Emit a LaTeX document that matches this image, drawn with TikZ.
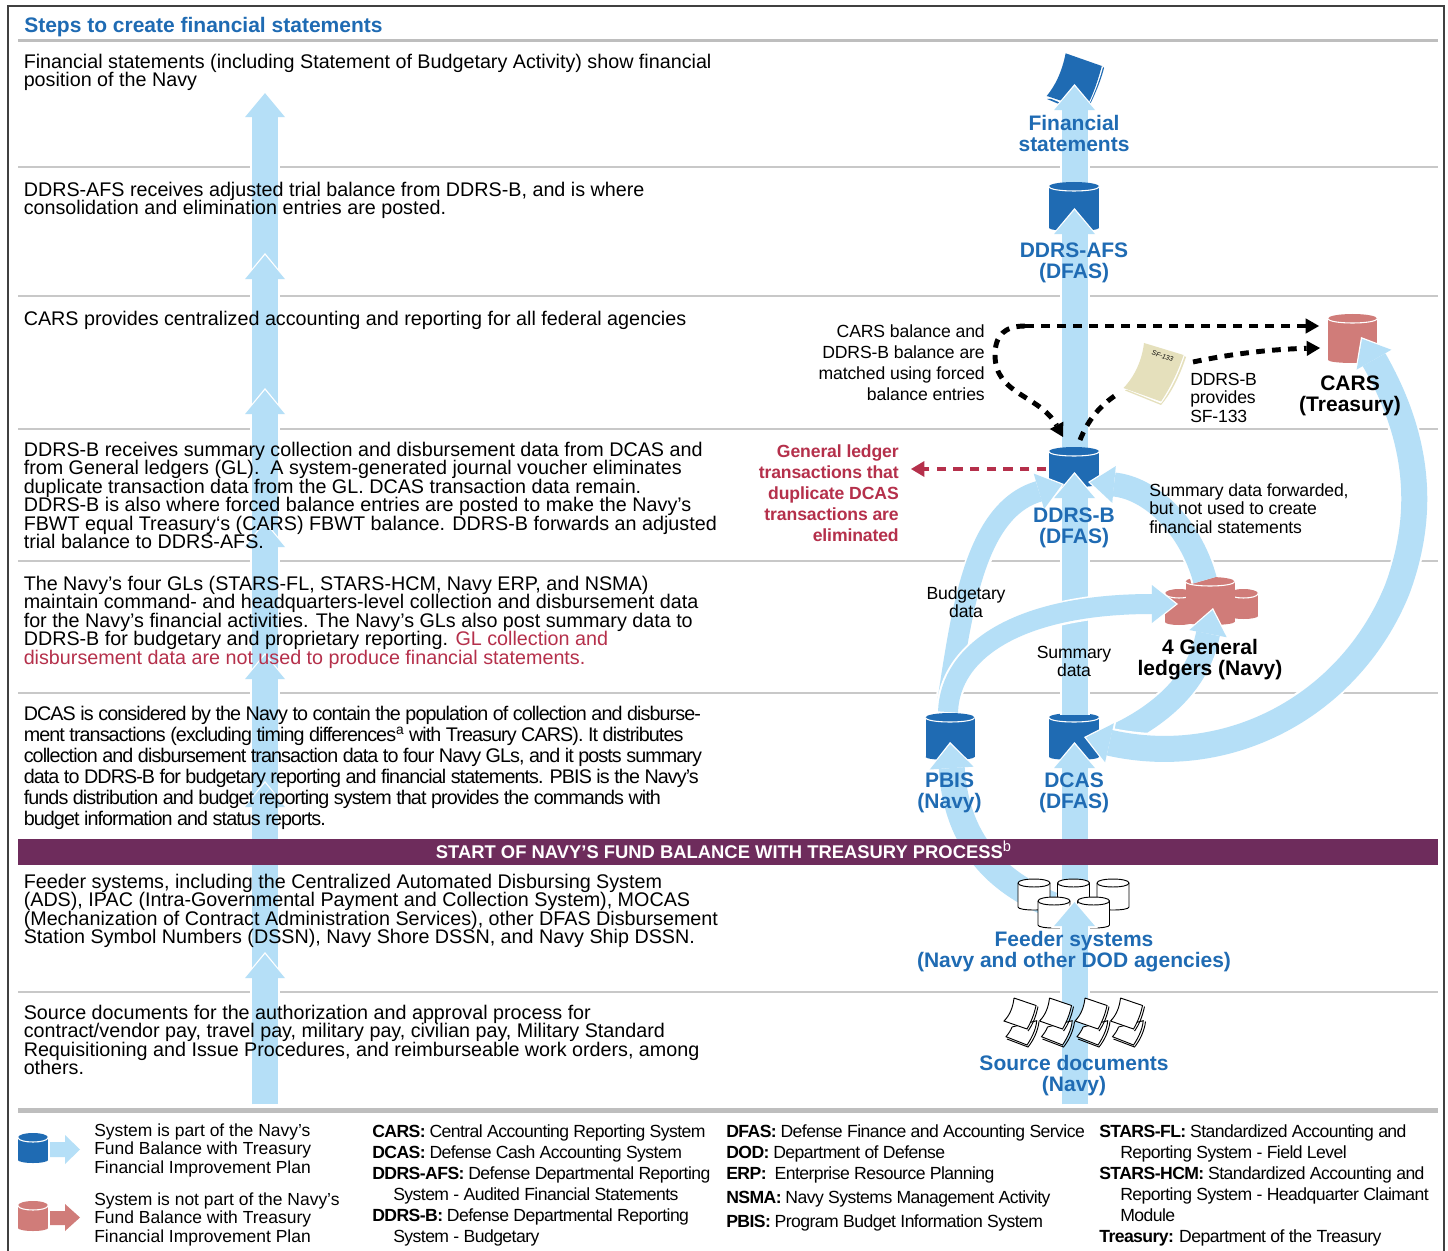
\documentclass[tikz,border=0pt]{standalone}
\usepackage{fontspec}
\setmainfont{Liberation Sans}
\usetikzlibrary{arrows.meta}
\definecolor{lb}{HTML}{B5DFF7}
\definecolor{bl}{HTML}{1F6BB3}
\definecolor{rd}{HTML}{D07C79}
\definecolor{pu}{HTML}{6E2C5C}
\definecolor{dr}{HTML}{B5304B}
\definecolor{cr}{HTML}{E5E0BC}
\definecolor{rl}{HTML}{C8C8C8}
\newcommand\stA{\rule{0pt}{11.5pt}}
\newcommand\stB{\rule{0pt}{12pt}}
\newcommand\stC{\rule{0pt}{10.5pt}}
\newcommand\cyl[6]{%
  \node[inner sep=0pt,minimum width={#4*0.75pt},minimum height={#5*0.75pt}] (#1) at (#2,{#3+#5/2}) {};
  \fill[#6] ({#2-#4/2},{#3+4.5}) rectangle ({#2+#4/2},{#3+#5-3});
  \fill[#6] (#2,{#3+#5-3}) ellipse [x radius={#4/2},y radius=3];
  \fill[#6] (#2,{#3+4.5}) ellipse [x radius={#4/2},y radius=4.5];
  \draw[white,line width=0.8pt] ({#2-#4/2},{#3+4.5}) .. controls ({#2-#4/2},{#3+10.5}) and ({#2+#4/2},{#3+10.5}) .. ({#2+#4/2},{#3+4.5});}
\newcommand\ocyl[5]{%
  \node[inner sep=0pt,minimum width={#4*0.75pt},minimum height={#5*0.75pt}] (#1) at (#2,{#3+#5/2}) {};
  \filldraw[fill=white,draw=black,line width=0.7pt] ({#2-#4/2},{#3+4}) -- ({#2-#4/2},{#3+#5-3}) .. controls ({#2-#4/2},{#3+#5+1}) and ({#2+#4/2},{#3+#5+1}) .. ({#2+#4/2},{#3+#5-3}) -- ({#2+#4/2},{#3+4}) .. controls ({#2+#4/2},{#3-1.3}) and ({#2-#4/2},{#3-1.3}) .. cycle;
  \draw[black,line width=0.7pt] ({#2-#4/2},{#3+4}) .. controls ({#2-#4/2},{#3+9.3}) and ({#2+#4/2},{#3+9.3}) .. ({#2+#4/2},{#3+4});}
\newcommand\fatarrow[3]{%
  \draw[white,line width={(#1+4)*0.75pt},shorten >=16pt] #3;
  \draw[white,line width=0.1pt,-{Triangle[width={(#2+6)*0.75pt},length=21pt,line width=0pt,fill=white]}] #3;
  \draw[lb,line width={#1*0.75pt},shorten >=1.6pt,-{Triangle[width={#2*0.75pt},length=18pt,line width=0pt,fill=lb]}] #3;}
\newcommand\fatboth[3]{%
  \draw[white,line width={(#1+4)*0.75pt},shorten >=16pt,shorten <=16pt] #3;
  \draw[white,line width=0.1pt,{Triangle[width={(#2+6)*0.75pt},length=21pt,line width=0pt,fill=white]}-{Triangle[width={(#2+6)*0.75pt},length=21pt,line width=0pt,fill=white]}] #3;
  \draw[lb,line width={#1*0.75pt},shorten >=1.6pt,shorten <=1.6pt,{Triangle[width={#2*0.75pt},length=18pt,line width=0pt,fill=lb]}-{Triangle[width={#2*0.75pt},length=18pt,line width=0pt,fill=lb]}] #3;}
\newcommand\srcdoc[1]{%
  \begin{scope}[shift={(#1,0)}]
  \draw[fill=white,line width=0.7pt] (1012,1027) -- (1036.7,1020.7) .. controls (1036,1030) and (1031,1039) .. (1027,1045) -- (1006,1036.7) .. controls (1009,1033) and (1011,1030) .. (1012,1027);
  \draw[line width=0.7pt] (1039,1021.5) .. controls (1038,1031) and (1033,1041) .. (1028,1047) -- (1007,1039);
  \draw[fill=white,line width=0.7pt] (1014,998) -- (1036,1005.5) .. controls (1034,1015) and (1031,1022) .. (1027,1029) -- (1004,1021) .. controls (1010,1015) and (1013,1007) .. (1014,998);
  \draw[line width=0.7pt] (1038,1006.5) .. controls (1036,1016) and (1033,1024) .. (1028,1031);
  \end{scope}}
\tikzset{
  body/.style={anchor=north west,inner sep=0pt,align=left,font=\fontsize{14.8pt}{13.875pt}\selectfont},
  tight/.style={anchor=north west,inner sep=0pt,align=left,font=\fontsize{14.8pt}{15.75pt}\selectfont\addfontfeature{LetterSpace=-4.65}},
  sysl/.style={anchor=north,inner sep=0pt,align=center,text=bl,font=\fontsize{15.75pt}{15.75pt}\selectfont\bfseries},
  sysk/.style={anchor=north,inner sep=0pt,align=center,text=black,font=\fontsize{15.75pt}{15.75pt}\selectfont\bfseries},
  note/.style={inner sep=0pt,font=\fontsize{13.2pt}{15.75pt}\selectfont\addfontfeature{LetterSpace=-0.7}},
  notet/.style={inner sep=0pt,font=\fontsize{13.2pt}{13.875pt}\selectfont\addfontfeature{LetterSpace=-0.9}},
  legt/.style={anchor=north west,inner sep=0pt,align=left,font=\fontsize{13.1pt}{14pt}\selectfont},
  legc/.style={anchor=north west,inner sep=0pt,align=left,font=\fontsize{13.2pt}{15.75pt}\selectfont\addfontfeature{LetterSpace=-3.2}},
  rowline/.style={rl,line width=1.1pt},
  thick rule/.style={color=rl!95!black,line width=#1},
  dashk/.style={black,line width=3.7pt,dash pattern=on 6.5pt off 5.5pt},
  tipk/.style={-{Triangle[width=11.5pt,length=10pt,line width=0pt]}},
}
\begin{document}
\begin{tikzpicture}[x=0.75pt,y=-0.75pt]
\useasboundingbox (0,0) rectangle (1448,1251);
\fill[white] (0,0) rectangle (1448,1251);
% frame
\coordinate (fbl) at (8,1251); \coordinate (ftl) at (8,6); \coordinate (ftr) at (1444,6); \coordinate (fbr) at (1444,1251);
\draw[black!75,line width=1.2pt] (fbl) -- (ftl) -- (ftr) -- (fbr);
% rules
\foreach \yy/\nm in {167/a,296/b,429/c,561/d,693/e,992/f}{
  \coordinate (L\nm) at (18,\yy); \coordinate (R\nm) at (1438,\yy);
  \draw[rowline] (L\nm) -- (R\nm);}
\coordinate (Lt) at (18,40.5); \coordinate (Rt) at (1438,40.5);
\coordinate (Lu) at (18,1110.5); \coordinate (Ru) at (1438,1110.5);
\draw[thick rule=2.2pt] (Lt) -- (Rt);
\draw[thick rule=3.4pt] (Lu) -- (Ru);
% left column arrow
\foreach \ya/\yb in {300/91,420/253,550/388,680/521,810/653,985/781,1104/952}{
  \coordinate (lA) at (265,\ya); \coordinate (lB) at (265,\yb);
  \fatarrow{26}{40}{(lA) -- (lB)}
}
% book
\coordinate (bookc) at (1075,80);
\fill[bl] (1047,99) -- (1060,104.5) -- (1090,104.5) .. controls (1096,92) and (1101,80) .. (1104,68) -- (1102,66) -- (1090,95) -- cycle;
\fill[white] (1046.7,97) -- (1060,102.5) -- (1089.5,103.5) .. controls (1095,92) and (1099.5,80) .. (1103,67) -- (1101,64) -- cycle;
\fill[bl] (1065.6,53.3) -- (1101.8,66) .. controls (1098,80) and (1094,92) .. (1089,102) -- (1062,101) -- (1046.7,96) .. controls (1055,86) and (1062,72) .. (1065.6,53.3) -- cycle;
\coordinate (fsIn) at (1074.5,84);
\coordinate (afsTop) at (1074.5,190);
\fatarrow{26}{41}{(afsTop) -- (fsIn)}
\cyl{afs}{1074}{182}{50}{49}{bl}
\coordinate (afsIn) at (1074.5,208);
\coordinate (bTop) at (1074.5,450);
\fatarrow{26}{41}{(bTop) -- (afsIn)}
\cyl{ddrsb}{1074}{447}{50}{40}{bl}
\cyl{dcas}{1074}{713}{50}{47}{bl}
\cyl{pbis}{950}{713}{49}{47}{bl}
\coordinate (bIn) at (1074.5,472);
\coordinate (dcasTop) at (1074.5,715);
\fatarrow{26}{41}{(dcasTop) -- (bIn)}
\coordinate (dIn) at (1074.5,742);
\coordinate (feedTop) at (1074.5,905);
\fatarrow{26}{41}{(feedTop) -- (dIn)}
% PBIS feed
\coordinate (feedL) at (1052,905);
\coordinate (pIn) at (950,742);
\fatarrow{26}{44}{(feedL) .. controls (1005,885) and (957,850) .. (pIn)}
% GL cylinders
\cyl{glL}{1179}{589}{28}{36}{rd}
\cyl{glR}{1243.5}{589}{29}{30}{rd}
\cyl{glC}{1210}{577}{49}{48}{rd}
\cyl{cars}{1352.5}{314}{49}{49}{rd}
% PBIS to DDRS-B
\coordinate (pUp) at (948,700);
\coordinate (bInL) at (1064,484);
\fatarrow{21}{37}{(pUp) .. controls (962,610) and (975,510) .. (bInL)}
% GL to DDRS-B
\coordinate (glUp) at (1205,580);
\coordinate (bInR) at (1088,482);
\fatarrow{24}{37}{(glUp) .. controls (1190,525) and (1150,488) .. (bInR)}
% PBIS to GL
\coordinate (pR) at (948,712);
\coordinate (glIn) at (1178,604);
\fatarrow{20}{38}{(pR) .. controls (950,650) and (1020,604) .. (glIn)}
% DCAS to GL
\coordinate (dR) at (1118,735);
\coordinate (glIn2) at (1213,608);
\fatarrow{24}{38}{(dR) .. controls (1170,710) and (1200,675) .. (glIn2)}
% big arc, CARS to DCAS
\coordinate (arcM) at (1397,590);
\coordinate (carsIn) at (1361,337);
\coordinate (dIn2) at (1084,737);
\fatboth{26}{40}{(carsIn) .. controls (1420,440) and (1425,515) .. (arcM) .. controls (1350,705) and (1230,770) .. (dIn2)}
% feeder
\ocyl{f1}{1034}{879}{32}{31}
\ocyl{f2}{1073.5}{879}{32}{31}
\ocyl{f3}{1113}{879}{32}{31}
\ocyl{f4}{1054}{897}{32}{31}
\ocyl{f5}{1093.5}{897}{32}{31}
% source up arrow
\coordinate (srcB) at (1074.5,1104);
\coordinate (feedIn) at (1074.5,900);
\fatarrow{26}{41}{(srcB) -- (feedIn)}
\srcdoc{0}\srcdoc{35.5}\srcdoc{71}\srcdoc{106.5}
% SF-133
\fill[cr] (1125,390.5) -- (1161,405) .. controls (1172,392) and (1180,375) .. (1186,357) -- (1184,356) -- cycle;
\fill[white] (1124,388.5) -- (1161,403.5) .. controls (1171,390) and (1179,373) .. (1184.5,356) -- (1183,354) -- cycle;
\fill[cr] (1144,343) -- (1183.5,355) .. controls (1178,372) and (1170,388) .. (1161,401.5) -- (1123.5,388) .. controls (1135,376) and (1142,360) .. (1144,343) -- cycle;
\node[rotate=-17,inner sep=0pt,font=\fontsize{5pt}{5pt}\selectfont\itshape] (sftag) at (1162.5,356) {SF-133};
\coordinate (sfdoc) at (1119,393);
\coordinate (sfdoc2) at (1193,362);
% dashed
\coordinate (carsD1) at (1319,326);
\coordinate (carsD2) at (1320,348);
\coordinate (bD1) at (1063,437);
\coordinate (bD2) at (1080,440);
\draw[dashk,tipk] (1025,326) -- (carsD1);
\draw[dashk,tipk] (1025,326) .. controls (1005,326) and (995,335) .. (995,355) .. controls (995,395) and (1040,395) .. (bD1);
\draw[dashk] (bD2) .. controls (1088,420) and (1100,405) .. (sfdoc);
\draw[dashk,tipk] (sfdoc2) .. controls (1240,352) and (1280,349) .. (carsD2);
\coordinate (rS) at (1046,469);
\coordinate (rE) at (911,469);
\draw[dr,line width=3.4pt,dash pattern=on 7pt off 5.5pt,-{Triangle[width=12pt,length=10pt,line width=0pt]}] (rS) -- (rE);
% band
\node[fill=pu,minimum width=1065pt,minimum height=19.5pt,inner sep=0pt] (band) at (728,851.5) {};
\node[inner sep=0pt,text=white,font=\fontsize{13.8pt}{14pt}\selectfont\bfseries] (bandt) at (723.5,850) {START OF NAVY’S FUND BALANCE WITH TREASURY PROCESS\raisebox{5.5pt}{\fontsize{11pt}{11pt}\selectfont\mdseries b}};
% header
\node[anchor=north west,inner sep=0pt,text=bl,font=\fontsize{15.75pt}{16pt}\selectfont\bfseries] (hdr) at (24,16) {\stB Steps to create financial statements};
% rows
\node[body] (r1) at (23.5,52.5) {\stA Financial statements (including Statement of Budgetary Activity) show financial\\position of the Navy};
\node[body] (r2) at (23.5,180.5) {\stA DDRS-AFS receives adjusted trial balance from DDRS-B, and is where\\consolidation and elimination entries are posted.};
\node[body] (r3) at (23.5,309.5) {\stA CARS provides centralized accounting and reporting for all federal agencies};
\node[body] (r4) at (23.5,440.5) {\stA DDRS-B receives summary collection and disbursement data from DCAS and\\from General ledgers (GL).\ \ A system-generated journal voucher eliminates\\duplicate transaction data from the GL. DCAS transaction data remain.\\DDRS-B is also where forced balance entries are posted to make the Navy’s\\FBWT equal Treasury‘s (CARS) FBWT balance. DDRS-B forwards an adjusted\\trial balance to DDRS-AFS.};
\node[body] (r5) at (23.5,574.5) {\stA The Navy’s four GLs (STARS-FL, STARS-HCM, Navy ERP, and NSMA)\\maintain command- and headquarters-level collection and disbursement data\\for the Navy’s financial activities. The Navy’s GLs also post summary data to\\DDRS-B for budgetary and proprietary reporting. \textcolor{dr}{GL collection and}\\\textcolor{dr}{disbursement data are not used to produce financial statements.}};
\node[tight] (r6) at (23.5,704.5) {\stA DCAS is considered by the Navy to contain the population of collection and disburse-\\ment transactions (excluding timing differences\textsuperscript{a} with Treasury CARS). It distributes\\collection and disbursement transaction data to four Navy GLs, and it posts summary\\data to DDRS-B for budgetary reporting and financial statements. PBIS is the Navy’s\\funds distribution and budget reporting system that provides the commands with\\budget information and status reports.};
\node[body] (r7) at (23.5,872.5) {\stA Feeder systems, including the Centralized Automated Disbursing System\\(ADS), IPAC (Intra-Governmental Payment and Collection System), MOCAS\\(Mechanization of Contract Administration Services), other DFAS Disbursement\\Station Symbol Numbers (DSSN), Navy Shore DSSN, and Navy Ship DSSN.};
\node[body] (r8) at (23.5,1003.5) {\stA Source documents for the authorization and approval process for\\contract/vendor pay, travel pay, military pay, civilian pay, Military Standard\\Requisitioning and Issue Procedures, and reimburseable work orders, among\\others.};
% system labels
\node[sysl] (lfs) at (1074,114) {\stB Financial\\statements};
\node[sysl] (lafs) at (1074,241) {\stB DDRS-AFS\\(DFAS)};
\node[sysl] (lb) at (1074,506) {\stB DDRS-B\\(DFAS)};
\node[sysl] (ldcas) at (1074,771) {\stB DCAS\\(DFAS)};
\node[sysl] (lpbis) at (949.5,771) {\stB PBIS\\(Navy)};
\node[sysl] (lfeed) at (1074,930) {\stB Feeder systems\\(Navy and other DOD agencies)};
\node[sysl] (lsrc) at (1074,1054) {\stB Source documents\\(Navy)};
\node[sysk] (lcars) at (1350,374) {\stB CARS\\(Treasury)};
\node[sysk] (lgl) at (1210,638) {\stB 4 General\\ledgers (Navy)};
% notes
\node[note,anchor=north east,align=right] (n1) at (985,323) {\stC CARS balance and\\DDRS-B balance are\\matched using forced\\balance entries};
\node[notet,anchor=north west,align=left] (n2) at (1190,371) {\stC DDRS-B\\provides\\SF-133};
\node[anchor=north east,align=right,inner sep=0pt,text=dr,font=\fontsize{13.2pt}{15.75pt}\selectfont\bfseries\addfontfeature{LetterSpace=-0.7}] (n3) at (899,443) {\stC General ledger\\transactions that\\duplicate DCAS\\transactions are\\eliminated};
\node[notet,anchor=north west,align=left] (n4) at (1149,482) {\stC Summary data forwarded,\\but not used to create\\financial statements};
\node[notet,anchor=north,align=center] (n5) at (966,585) {\stC Budgetary\\data};
\node[notet,anchor=north,align=center] (n6) at (1074,644) {\stC Summary\\data};
% legend
\cyl{kb}{33}{1133}{30}{30}{bl}
\cyl{kr}{33}{1201}{30}{30}{rd}
\fill[lb] (50,1142) -- (65,1142) -- (65,1135) -- (80,1149.5) -- (65,1164) -- (65,1157) -- (50,1157) -- cycle;
\fill[rd] (50,1211) -- (65,1211) -- (65,1204) -- (80,1217.5) -- (65,1231) -- (65,1225) -- (50,1225) -- cycle;
\node[legt] (k1) at (94,1122) {\stC System is part of the Navy’s\\Fund Balance with Treasury\\Financial Improvement Plan};
\node[legt] (k2) at (94,1191) {\stC System is not part of the Navy’s\\Fund Balance with Treasury\\Financial Improvement Plan};
\node[legc] (c1) at (372,1123) {\stC\textbf{CARS:} Central Accounting Reporting System\\\textbf{DCAS:} Defense Cash Accounting System\\\textbf{DDRS-AFS:} Defense Departmental Reporting\\\hspace*{15.75pt}System - Audited Financial Statements\\\textbf{DDRS-B:} Defense Departmental Reporting\\\hspace*{15.75pt}System - Budgetary};
\node[legc] (c2) at (726,1123) {\stC\textbf{DFAS:} Defense Finance and Accounting Service\\\textbf{DOD:} Department of Defense\\\textbf{ERP:} \ Enterprise Resource Planning\\[2.25pt]\textbf{NSMA:} Navy Systems Management Activity\\[2.25pt]\textbf{PBIS:} Program Budget Information System};
\node[legc] (c3) at (1099,1123) {\stC\textbf{STARS-FL:} Standardized Accounting and\\\hspace*{15.75pt}Reporting System - Field Level\\\textbf{STARS-HCM:} Standardized Accounting and\\\hspace*{15.75pt}Reporting System - Headquarter Claimant\\\hspace*{15.75pt}Module\\\textbf{Treasury:} Department of the Treasury};
\end{tikzpicture}
\end{document}
